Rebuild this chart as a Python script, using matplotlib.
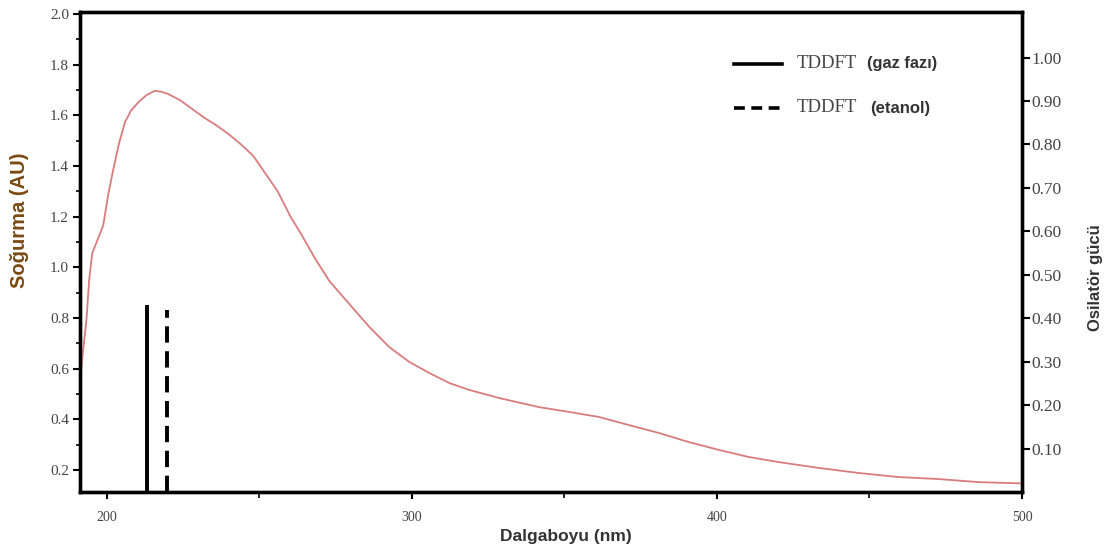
import matplotlib
matplotlib.use("Agg")
import matplotlib.pyplot as plt
from matplotlib.ticker import MultipleLocator, FixedLocator

# Absorption spectrum (left axis)
wavelength = [191.2, 192.2, 193.3, 194.2, 195.2, 197.0, 198.8, 200.5, 202.0, 204.0,
              206.0, 208.0, 210.6, 213.0, 215.7, 218.0, 220.0, 224.0, 228.0, 232.0,
              236.0, 240.0, 244.0, 248.0, 252.0, 256.0, 260.0, 264.0, 268.0, 273.0,
              279.5, 286.1, 292.6, 299.2, 305.7, 312.3, 318.8, 328.6, 341.7, 351.6,
              361.4, 371.2, 381.0, 390.8, 400.7, 410.5, 420.3, 433.4, 446.5, 459.6,
              472.7, 485.8, 500.0]
absorbance = [0.54, 0.67, 0.79, 0.95, 1.055, 1.11, 1.165, 1.29, 1.38, 1.49,
              1.575, 1.62, 1.655, 1.68, 1.697, 1.693, 1.685, 1.66, 1.625, 1.59,
              1.56, 1.525, 1.485, 1.44, 1.37, 1.30, 1.205, 1.125, 1.04, 0.945,
              0.855, 0.764, 0.685, 0.626, 0.583, 0.543, 0.516, 0.484, 0.448, 0.429,
              0.409, 0.377, 0.346, 0.310, 0.279, 0.251, 0.231, 0.208, 0.188, 0.172,
              0.164, 0.152, 0.147]

# Oscillator strengths (right axis)
osc_gas_x, osc_gas_f = 213.0, 0.43
osc_eth_x, osc_eth_f = 219.6, 0.42

left_ticks = [0.2, 0.4, 0.6, 0.8, 1.0, 1.2, 1.4, 1.6, 1.8, 2.0]
right_ticks = [0.10, 0.20, 0.30, 0.40, 0.50, 0.60, 0.70, 0.80, 0.90, 1.00]
x_ticks = [200, 300, 400, 500]

serif = ["Liberation Serif", "DejaVu Serif"]
sans = ["Liberation Sans", "DejaVu Sans"]

fig = plt.figure(figsize=(11.09, 5.51), dpi=100)
ax = fig.add_axes([80/1109, 59/551, 942/1109, 480/551])
ax2 = ax.twinx()

ax.plot(wavelength, absorbance, color="#d97c7c", lw=1.3, zorder=3)
ax.set_xlim(191.2, 500)
ax.set_ylim(0.113, 2.008)
ax2.set_ylim(0.0, 1.105)

ax2.vlines(osc_gas_x, 0, osc_gas_f, colors="black", lw=2.8, linestyles="solid")
ax2.vlines(osc_eth_x, 0, osc_eth_f, colors="black", lw=2.8, linestyles=(0, (4.2, 2.2)))

for a in (ax, ax2):
    for s in a.spines.values():
        s.set_linewidth(2.4)
        s.set_color("black")

ax.yaxis.set_major_locator(FixedLocator(left_ticks))
ax.yaxis.set_minor_locator(MultipleLocator(0.1))
ax.set_yticklabels([f"{t:.1f}" for t in left_ticks], fontfamily=serif, fontsize=11, color="#444444")
ax.tick_params(axis="y", which="major", direction="out", length=5, width=1.5, pad=3)
ax.tick_params(axis="y", which="minor", direction="out", length=3, width=1.2)

ax.xaxis.set_major_locator(FixedLocator(x_ticks))
ax.xaxis.set_minor_locator(FixedLocator([250, 350, 450]))
ax.set_xticklabels([str(t) for t in x_ticks], fontfamily=serif, fontsize=10, color="#444444")
ax.tick_params(axis="x", which="major", direction="out", length=5, width=1.5, pad=9)
ax.tick_params(axis="x", which="minor", direction="out", length=4, width=1.2)

ax2.yaxis.set_major_locator(FixedLocator(right_ticks))
ax2.set_yticklabels([f"{t:.2f}" for t in right_ticks], fontfamily=serif, fontsize=12.5, color="#444444")
ax2.tick_params(axis="y", which="major", direction="out", length=6, width=1.5, pad=1)

ax.set_xlabel("Dalgaboyu (nm)", fontfamily=sans, fontweight="bold", fontsize=12.5, color="#333333")
ax.xaxis.set_label_coords(0.516, -0.0775)
ax.set_ylabel("Soğurma (AU)", fontfamily=sans, fontweight="bold", fontsize=14.5, color="#7a4a12")
ax.yaxis.set_label_coords(-0.054, 0.567)
ax2.set_ylabel("Osilatör gücü", fontfamily=sans, fontweight="bold", fontsize=12, color="#333333")
ax2.yaxis.set_label_coords(1.070, 0.446)

# Legend (manual, mixed fonts)
ax.plot([0.694, 0.745], [0.892, 0.892], transform=ax.transAxes, color="black", lw=2.6)
ax.plot([0.694, 0.745], [0.800, 0.800], transform=ax.transAxes, color="black", lw=2.6,
        linestyle=(0, (3.0, 1.8)))
ax.text(0.761, 0.892, "TDDFT", transform=ax.transAxes, fontfamily=serif, fontsize=13.5,
        color="#444444", va="center", ha="left")
ax.text(0.835, 0.892, "(gaz fazı)", transform=ax.transAxes, fontfamily=sans, fontsize=11.8,
        fontweight="bold", color="#333333", va="center", ha="left")
ax.text(0.761, 0.800, "TDDFT", transform=ax.transAxes, fontfamily=serif, fontsize=13.5,
        color="#444444", va="center", ha="left")
ax.text(0.839, 0.800, "(etanol)", transform=ax.transAxes, fontfamily=sans, fontsize=12,
        fontweight="bold", color="#333333", va="center", ha="left")

fig.savefig("out.png", dpi=100)
